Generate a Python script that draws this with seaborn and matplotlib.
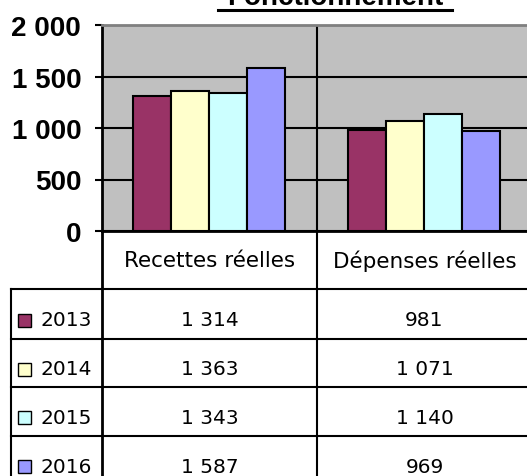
import pandas as pd
import seaborn as sns
import matplotlib.pyplot as plt
from matplotlib.patches import Rectangle

categories = ["Recettes réelles", "Dépenses réelles"]
years = ["2013", "2014", "2015", "2016"]
recettes = [1314, 1363, 1343, 1587]
depenses = [981, 1071, 1140, 969]
couleurs = ["#993366", "#FFFFCC", "#CCFFFF", "#9999FF"]
yticks = [0, 500, 1000, 1500, 2000]
ylabels = ["0", "500", "1 000", "1 500", "2 000"]
titre = "Fonctionnement"


def fmt(v):
    return f"{v:,}".replace(",", " ")


rows = []
for i, y in enumerate(years):
    rows.append((categories[0], y, recettes[i]))
    rows.append((categories[1], y, depenses[i]))
df = pd.DataFrame(rows, columns=["poste", "annee", "montant"])

W, H = 527, 477
fig = plt.figure(figsize=(W / 100, H / 100), dpi=100)

# fond en pixels pour le tableau sous le graphe
tab = fig.add_axes([0, 0, 1, 1])
tab.set_xlim(0, W)
tab.set_ylim(H, 0)
tab.axis("off")

ax = fig.add_axes([102 / W, (H - 232) / H, 429 / W, 206 / H])
sns.barplot(data=df, x="poste", y="montant", hue="annee", order=categories,
            hue_order=years, palette=couleurs, width=0.71, saturation=1,
            edgecolor="black", linewidth=1.5, ax=ax, legend=False, zorder=3)
ax.set_facecolor("#C0C0C0")
ax.set_axisbelow(True)
ax.set_ylim(0, 2000)
ax.set_xlim(-0.5, 1.5)
ax.set_yticks(yticks, ylabels, fontweight="bold", fontsize=20,
              family="Liberation Sans")
ax.tick_params(axis="y", length=5, width=1.5, pad=10)
ax.set_xticks([])
ax.set_xlabel("")
ax.set_ylabel("")
ax.grid(axis="y", color="black", lw=1.5)
ax.axvline(0.5, color="black", lw=1.5, zorder=1)
ax.spines["right"].set_visible(False)
ax.spines["top"].set_color("#808080")
ax.spines["top"].set_linewidth(2)
ax.spines["left"].set_linewidth(2)
ax.spines["bottom"].set_linewidth(2)
ax.spines["left"].set_color("black")
ax.spines["bottom"].set_color("black")

# titre coupé en haut
fig.text(335 / W, 1 - 5 / H, titre, ha="center", va="baseline",
         fontsize=20, fontweight="bold", family="Liberation Sans")
tab.plot([218, 452], [10.5, 10.5], color="black", lw=2.2)

# tableau
lw = 1.5
col_x = [102, 317, 532]
row_y = [290, 340, 388, 437, 486]
tab.plot([102, 102], [232, H], color="black", lw=2)
tab.plot([317, 317], [232, H], color="black", lw=lw)
tab.plot([11, 11], [290, H], color="black", lw=lw)
for yy in row_y[:-1]:
    tab.plot([11, W], [yy, yy], color="black", lw=lw)

for j, c in enumerate(categories):
    tab.text((col_x[j] + col_x[j + 1]) / 2, 261, c, fontsize=15.5,
             family="DejaVu Sans", va="center", ha="center")

vals = [recettes, depenses]
for i, y in enumerate(years):
    yc = (row_y[i] + row_y[i + 1]) / 2 + 6
    tab.add_patch(Rectangle((18, yc - 6.5), 13, 13, fc=couleurs[i],
                            ec="black", lw=1))
    tab.text(41, yc, y, fontsize=14.5, family="DejaVu Sans", va="center", ha="left")
    for j in range(2):
        tab.text((col_x[j] + col_x[j + 1]) / 2, yc, fmt(vals[j][i]),
                 fontsize=14.5, family="DejaVu Sans", va="center", ha="center")

fig.savefig("out.png", dpi=100)
